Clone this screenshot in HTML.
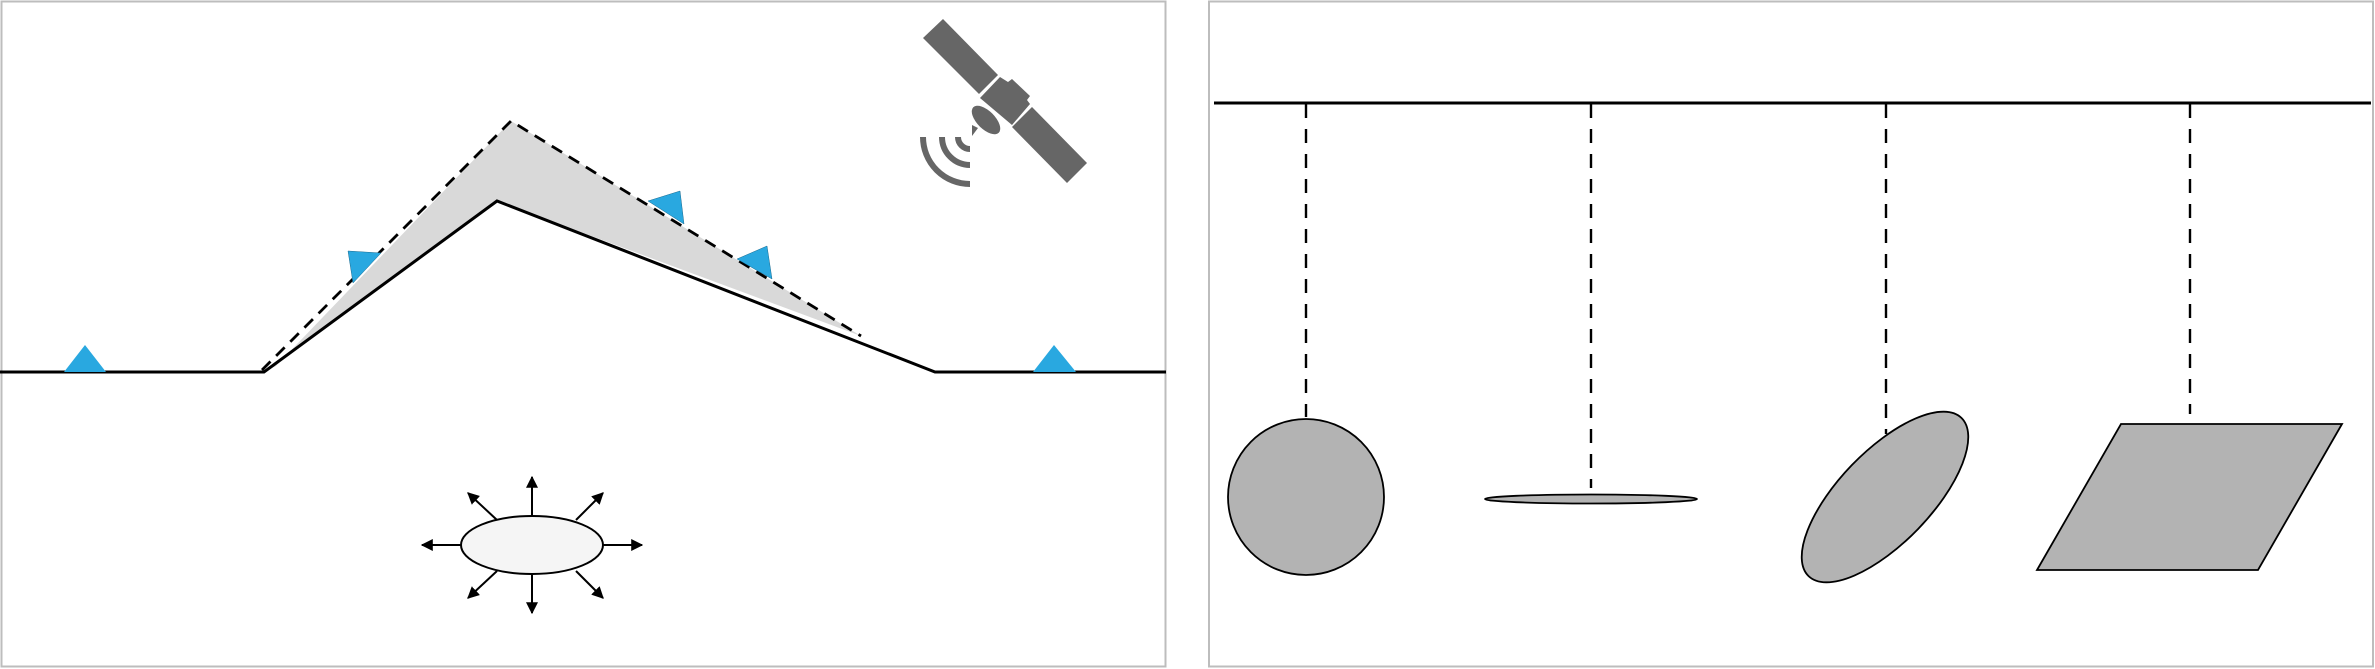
<!DOCTYPE html>
<html><head><style>html,body{margin:0;padding:0;background:#fff}svg{display:block}</style></head>
<body>
<svg width="2375" height="669" viewBox="0 0 2375 669" xmlns="http://www.w3.org/2000/svg">
<defs>
<marker id="ah" viewBox="0 0 10 10" refX="9" refY="5" markerWidth="6" markerHeight="6" orient="auto"><path d="M0,0 L10,5 L0,10 z" fill="#000"/></marker>
</defs>
<rect x="1.5" y="1.5" width="1164" height="665" fill="#fff" stroke="#bdbdbd" stroke-width="2"/>
<rect x="1209" y="1.5" width="1164" height="665" fill="#fff" stroke="#bdbdbd" stroke-width="2"/>
<polygon points="266,371 276,366 511,121 861,336 497,201" fill="#d9d9d9"/>
<polyline points="0,372 264,372 497,201 935,372 1166,372" fill="none" stroke="#000" stroke-width="3"/>
<polyline points="262,370 511,121 861,336" fill="none" stroke="#000" stroke-width="2.8" stroke-dasharray="12,8"/>
<polygon points="64,372 106,372 85,345" fill="#29a8e0"/>
<polygon points="1033,372 1076,372 1054,345" fill="#29a8e0"/>
<polygon points="348,251 381,253 353,283" fill="#29a8e0" stroke="#1a6a8f" stroke-width="0.5"/>
<polygon points="648,201 680,191 684,224" fill="#29a8e0" stroke="#1a6a8f" stroke-width="0.5"/>
<polygon points="737,259 767,246 772,279" fill="#29a8e0" stroke="#1a6a8f" stroke-width="0.5"/>
<g fill="#666">
<polygon points="923,38 943,19 998,75 979,94"/>
<polygon points="1012,127 1032,107 1087,163 1067,183"/>
<polygon points="980,98 1000,77 1008,82 1012,79 1030,96 1027,100 1030,104 1012,125"/>
<ellipse cx="986" cy="120" rx="18" ry="9" transform="rotate(45 986 120)"/>
<polygon points="972,125 978,128 972,136"/>
</g>
<g fill="none" stroke="#666" stroke-width="6">
<path d="M923,137 A47,47 0 0 0 970,184"/>
<path d="M942,137 A28,28 0 0 0 970,165"/>
<path d="M958,137 A12,12 0 0 0 970,149"/>
</g>
<g stroke="#000" stroke-width="2" marker-end="url(#ah)">
<line x1="532" y1="516" x2="532" y2="477"/>
<line x1="532" y1="574" x2="532" y2="613"/>
<line x1="461" y1="545" x2="422" y2="545"/>
<line x1="603" y1="545" x2="642" y2="545"/>
<line x1="497" y1="520" x2="468" y2="493"/>
<line x1="576" y1="520" x2="603" y2="493"/>
<line x1="497" y1="571" x2="468" y2="598"/>
<line x1="576" y1="571" x2="603" y2="598"/>
</g>
<ellipse cx="532" cy="545" rx="71" ry="29" fill="#f5f5f5" stroke="#000" stroke-width="2"/>
<line x1="1214" y1="103" x2="2371" y2="103" stroke="#000" stroke-width="3"/>
<g stroke="#000" stroke-width="2.4" stroke-dasharray="14,11">
<line x1="1306" y1="104" x2="1306" y2="417"/>
<line x1="1591" y1="104" x2="1591" y2="488"/>
<line x1="1886" y1="104" x2="1886" y2="434"/>
<line x1="2190" y1="104" x2="2190" y2="414"/>
</g>
<g fill="#b3b3b3" stroke="#000" stroke-width="1.8">
<circle cx="1306" cy="497" r="78"/>
<ellipse cx="1591" cy="499" rx="106" ry="4.5"/>
<ellipse cx="1885" cy="497" rx="110" ry="46" transform="rotate(-46 1885 497)"/>
<polygon points="2121,424 2342,424 2258,570 2037,570"/>
</g>
</svg>
</body></html>
